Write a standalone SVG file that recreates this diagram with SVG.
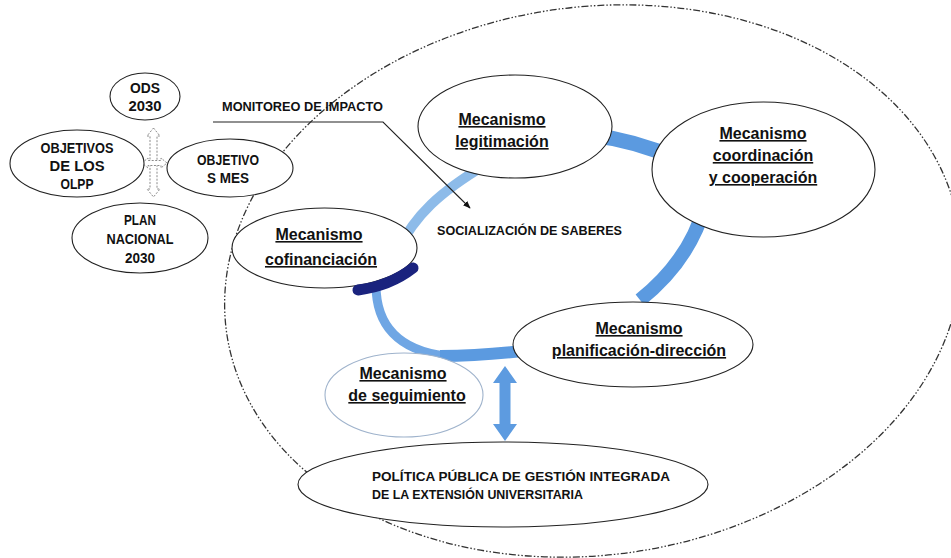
<svg xmlns="http://www.w3.org/2000/svg" width="951" height="558" viewBox="0 0 951 558">
<defs>
<style>
.node{fill:#fff;stroke:#222;stroke-width:1.1}
.t{font-family:"Liberation Sans",Arial,sans-serif;font-weight:bold;fill:#111}
.cap{font-size:14px}
.mec{font-size:16px;text-decoration:underline}
.ring{fill:none;stroke-linecap:butt}
.hollow{fill:#fff;stroke:#8a8a8a;stroke-width:1;stroke-dasharray:2 1.5}
</style>
<marker id="ah" viewBox="0 0 10 10" refX="9" refY="5" markerWidth="7" markerHeight="7" orient="auto">
<path d="M0,1 L10,5 L0,9 Z" fill="#111"/>
</marker>
</defs>
<rect x="0" y="0" width="951" height="558" fill="#fff"/>

<g id="frame">
<ellipse cx="593" cy="281" rx="370" ry="274" transform="rotate(-8 593 281)" fill="none" stroke="#333" stroke-width="1.3" stroke-dasharray="7 2 1.5 2 1.5 2"/>
</g>

<g id="connectors">
<path class="ring" d="M398,250 C415,215 440,192 485,165" stroke="#8dbbe9" stroke-width="10"/>
<path class="ring" d="M590,135 Q635,140 680,160" stroke="#5b9ae0" stroke-width="15"/>
<path class="ring" d="M705,205 Q690,260 640,300" stroke="#5b9ae0" stroke-width="14"/>
<path class="ring" d="M376,285 C376,325 398,350 445,356" stroke="#6fa6e4" stroke-width="9"/>
<path class="ring" d="M440,356 Q490,356 545,348" stroke="#5b9ae0" stroke-width="12"/>
<polygon points="505,366 517,383 510.5,383 510.5,424 517,424 505,441 493,424 499.5,424 499.5,383 493,383" fill="#5d9be0"/>
<polyline points="213,122 383,122 470,208" fill="none" stroke="#222" stroke-width="1.1" marker-end="url(#ah)"/>
<polygon class="hollow" points="153.5,128 160,136 157,136 157,189 160,189 153.5,197 147,189 150,189 150,136 147,136"/>
<polygon class="hollow" points="142,163 148,158 148,160.5 161,160.5 161,158 167,163 161,168 161,165.5 148,165.5 148,168"/>
</g>

<g id="ods">
<ellipse class="node" cx="145" cy="96.5" rx="35" ry="23.5"/>
<text class="t cap" x="145" y="93" text-anchor="middle" textLength="30" lengthAdjust="spacingAndGlyphs">ODS</text>
<text class="t cap" x="145" y="111" text-anchor="middle" textLength="33" lengthAdjust="spacingAndGlyphs">2030</text>
</g>

<g id="olpp">
<ellipse class="node" cx="77" cy="163.5" rx="67" ry="33.5"/>
<text class="t cap" x="77" y="153" text-anchor="middle" textLength="73" lengthAdjust="spacingAndGlyphs">OBJETIVOS</text>
<text class="t cap" x="77" y="171" text-anchor="middle" textLength="55" lengthAdjust="spacingAndGlyphs">DE LOS</text>
<text class="t cap" x="77" y="189" text-anchor="middle" textLength="33" lengthAdjust="spacingAndGlyphs">OLPP</text>
</g>

<g id="mes">
<ellipse class="node" cx="230" cy="168" rx="63" ry="29"/>
<text class="t cap" x="228" y="165" text-anchor="middle" textLength="62" lengthAdjust="spacingAndGlyphs">OBJETIVO</text>
<text class="t cap" x="228" y="183" text-anchor="middle" textLength="42" lengthAdjust="spacingAndGlyphs">S MES</text>
</g>

<g id="plan">
<ellipse class="node" cx="140" cy="238" rx="68" ry="35"/>
<text class="t cap" x="140" y="225" text-anchor="middle" textLength="32" lengthAdjust="spacingAndGlyphs">PLAN</text>
<text class="t cap" x="140" y="244" text-anchor="middle" textLength="67" lengthAdjust="spacingAndGlyphs">NACIONAL</text>
<text class="t cap" x="140" y="263" text-anchor="middle" textLength="30" lengthAdjust="spacingAndGlyphs">2030</text>
</g>

<g id="monitoreo">
<text class="t" font-size="13.5" x="222" y="111" textLength="161" lengthAdjust="spacingAndGlyphs">MONITOREO DE IMPACTO</text>
</g>

<g id="socializacion">
<text class="t" font-size="13" x="437" y="235" textLength="185" lengthAdjust="spacingAndGlyphs">SOCIALIZACIÓN DE SABERES</text>
</g>

<g id="legitimacion">
<ellipse class="node" cx="515" cy="126.5" rx="97" ry="51.5"/>
<text class="t mec" x="502" y="125" text-anchor="middle">Mecanismo</text>
<text class="t mec" x="502" y="147" text-anchor="middle">legitimación</text>
</g>

<g id="coordinacion">
<ellipse class="node" cx="763.5" cy="169.5" rx="111.5" ry="67.5"/>
<text class="t mec" x="763" y="139" text-anchor="middle">Mecanismo</text>
<text class="t mec" x="763" y="161" text-anchor="middle">coordinación </text>
<text class="t mec" x="763" y="183" text-anchor="middle">y cooperación</text>
</g>

<g id="cofinanciacion">
<ellipse class="node" cx="324.5" cy="248" rx="92.5" ry="40"/>
<path d="M358,290 Q390,286 413,268" fill="none" stroke="#1a237e" stroke-width="11" stroke-linecap="round"/>
<text class="t mec" x="319" y="240" text-anchor="middle">Mecanismo</text>
<text class="t mec" x="321" y="265" text-anchor="middle">cofinanciación</text>
</g>

<g id="seguimiento">
<ellipse cx="404" cy="395" rx="79" ry="42" fill="#fff" stroke="#9fb3cc" stroke-width="1.1"/>
<text class="t mec" x="403" y="379" text-anchor="middle">Mecanismo</text>
<text class="t mec" x="407" y="401" text-anchor="middle">de seguimiento</text>
</g>

<g id="planificacion">
<ellipse class="node" cx="633" cy="344.5" rx="120" ry="42.5"/>
<text class="t mec" x="639" y="334" text-anchor="middle">Mecanismo</text>
<text class="t mec" x="639" y="356" text-anchor="middle">planificación-dirección</text>
</g>

<g id="politica">
<ellipse class="node" cx="503" cy="484.5" rx="205" ry="42.5"/>
<text class="t" font-size="13.5" x="372" y="481" textLength="298" lengthAdjust="spacingAndGlyphs">POLÍTICA PÚBLICA DE GESTIÓN INTEGRADA</text>
<text class="t" font-size="13.5" x="372" y="499" textLength="211" lengthAdjust="spacingAndGlyphs">DE LA EXTENSIÓN UNIVERSITARIA</text>
</g>
</svg>
